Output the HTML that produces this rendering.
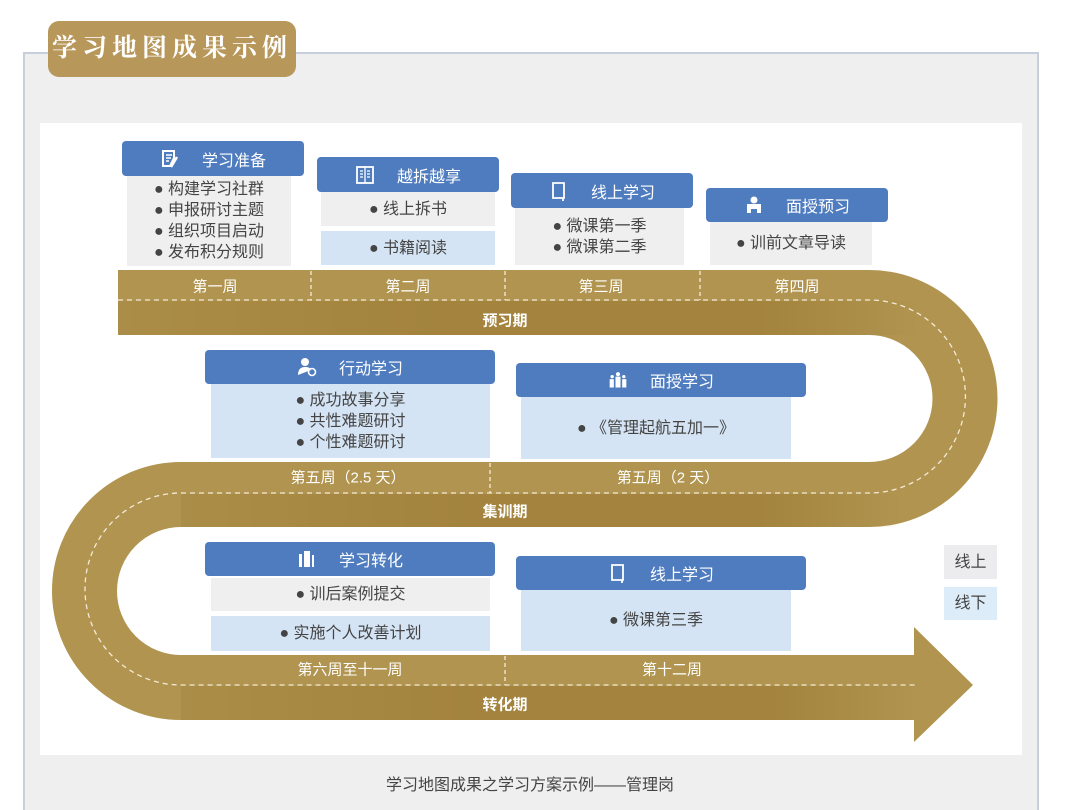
<!DOCTYPE html>
<html><head><meta charset="utf-8">
<style>
*{margin:0;padding:0;box-sizing:border-box}
html{height:810px;overflow:hidden}
body{width:1079px;height:810px;background:#fff;position:relative;overflow:hidden;font-family:"Liberation Sans","Noto Sans CJK SC",sans-serif}
.abs{position:absolute}
.panel{left:23px;top:52px;width:1016px;height:758px;background:#efefef;border:2px solid #c6cfdb;border-bottom:none}
.badge{left:48px;top:21px;width:248px;height:56px;background:#b8975a;border-radius:11px;color:#fff;font-family:"Liberation Serif","Noto Serif CJK SC",serif;font-weight:bold;font-size:25px;letter-spacing:5px;line-height:56px;text-align:center}
.white{left:40px;top:123px;width:982px;height:632px;background:#fff}
.hd{position:absolute;background:#4f7cbf;border-radius:4px;color:#fff;font-size:16px;display:flex;align-items:center;justify-content:center;gap:22px}
.bd{position:absolute;color:#444;font-size:16px;text-align:center;line-height:21px;display:flex;flex-direction:column;justify-content:center}
.g{background:#efeff0}.b{background:#d5e4f4}
.wl{position:absolute;color:#fff;font-size:15px;transform:translate(-50%,-50%);white-space:nowrap}
.pl{position:absolute;color:#fff;font-size:15px;font-weight:bold;transform:translate(-50%,-50%);white-space:nowrap}
.ic{width:20px;height:20px;display:inline-block}
</style></head><body>
<div class="abs panel"></div>
<div class="abs badge">学习地图成果示例</div>
<div class="abs white"></div>
<svg class="abs" style="left:0;top:0" width="1079" height="810">
<defs>
<linearGradient id="dk" x1="0" x2="1" y1="0" y2="0"><stop offset="0" stop-color="#9a7832" stop-opacity="0.25"/><stop offset="0.4" stop-color="#9a7832" stop-opacity="0.6"/><stop offset="0.8" stop-color="#9a7832" stop-opacity="0.6"/><stop offset="1" stop-color="#9a7832" stop-opacity="0"/></linearGradient>
</defs>
<path d="M118 302.5 H869 A96 96 0 0 1 869 494.5 H181 A96 96 0 0 0 181 687.5 H916" fill="none" stroke="#b0944f" stroke-width="65"/>
<rect x="118" y="301" width="800" height="34" fill="url(#dk)"/>
<rect x="181" y="494" width="720" height="33" fill="url(#dk)"/>
<rect x="181" y="686" width="735" height="34" fill="url(#dk)"/>
<polygon points="914,627 973,685 914,742" fill="#b0944f"/>
<path d="M118 300 H869 A96.5 96.5 0 0 1 869 493 H181 A96 96 0 0 0 181 685 H915" fill="none" stroke="#f3ead8" stroke-width="1.3" stroke-dasharray="5 4"/>
<g stroke="#f3ead8" stroke-width="1.3" stroke-dasharray="4 3">
<line x1="311" y1="271" x2="311" y2="300"/><line x1="505" y1="271" x2="505" y2="300"/><line x1="700" y1="271" x2="700" y2="300"/>
<line x1="490" y1="463" x2="490" y2="493"/><line x1="505" y1="656" x2="505" y2="685"/>
</g>
</svg>
<div class="wl" style="left:215px;top:286px">第一周</div>
<div class="wl" style="left:408px;top:286px">第二周</div>
<div class="wl" style="left:601px;top:286px">第三周</div>
<div class="wl" style="left:797px;top:286px">第四周</div>
<div class="pl" style="left:505px;top:320px">预习期</div>
<div class="wl" style="left:348px;top:477px">第五周（2.5 天）</div>
<div class="wl" style="left:668px;top:477px">第五周（2 天）</div>
<div class="pl" style="left:505px;top:511px">集训期</div>
<div class="wl" style="left:350px;top:669px">第六周至十一周</div>
<div class="wl" style="left:672px;top:669px">第十二周</div>
<div class="pl" style="left:505px;top:704px">转化期</div>

<div class="hd" style="left:122px;top:141px;width:182px;height:35px"><svg class="ic" viewBox="0 0 20 20"><path d="M3 2h11v7l-4 8H3z" fill="none" stroke="#fff" stroke-width="2"/><path d="M6 6h6M6 9h5M6 12h3" stroke="#fff" stroke-width="1.5"/><path d="M17 8l-6 10" stroke="#fff" stroke-width="2.5"/></svg><span>学习准备</span></div>
<div class="bd g" style="left:127px;top:176px;width:164px;height:90px">● 构建学习社群<br>● 申报研讨主题<br>● 组织项目启动<br>● 发布积分规则</div>
<div class="hd" style="left:317px;top:157px;width:182px;height:35px"><svg class="ic" viewBox="0 0 20 20"><rect x="2" y="2" width="16" height="16" fill="none" stroke="#fff" stroke-width="1.8"/><path d="M10 2v16M5 6h3M5 9h3M5 12h3M12 6h3M12 9h3M12 12h3" stroke="#fff" stroke-width="1.3"/></svg><span>越拆越享</span></div>
<div class="bd g" style="left:321px;top:192px;width:174px;height:34px">● 线上拆书</div>
<div class="bd b" style="left:321px;top:231px;width:174px;height:34px">● 书籍阅读</div>
<div class="hd" style="left:511px;top:173px;width:182px;height:35px"><svg class="ic" viewBox="0 0 20 20"><path d="M4 2h11v15H4z" fill="none" stroke="#fff" stroke-width="1.8"/><path d="M14 17v3" stroke="#fff" stroke-width="1.8"/></svg><span>线上学习</span></div>
<div class="bd g" style="left:515px;top:208px;width:169px;height:57px">● 微课第一季<br>● 微课第二季</div>
<div class="hd" style="left:706px;top:188px;width:182px;height:34px"><svg class="ic" viewBox="0 0 20 20"><circle cx="10" cy="5" r="3.5" fill="#fff"/><path d="M3 9h14v9h-4v-4H7v4H3z" fill="#fff"/></svg><span>面授预习</span></div>
<div class="bd g" style="left:710px;top:222px;width:162px;height:43px">● 训前文章导读</div>
<div class="hd" style="left:205px;top:350px;width:290px;height:34px"><svg class="ic" viewBox="0 0 20 20"><circle cx="8" cy="5" r="4" fill="#fff"/><path d="M1 18c0-6 3-8 7-8s5 1 6 3" fill="#fff"/><circle cx="15" cy="15" r="3.5" fill="none" stroke="#fff" stroke-width="1.6"/></svg><span>行动学习</span></div>
<div class="bd b" style="left:211px;top:384px;width:279px;height:74px">● 成功故事分享<br>● 共性难题研讨<br>● 个性难题研讨</div>
<div class="hd" style="left:516px;top:363px;width:290px;height:34px"><svg class="ic" viewBox="0 0 24 20"><g fill="#fff"><circle cx="12" cy="3" r="2.5"/><circle cx="5" cy="6" r="2"/><circle cx="19" cy="6" r="2"/><rect x="9" y="6" width="6" height="13"/><rect x="2" y="9" width="5" height="10"/><rect x="17" y="9" width="5" height="10"/></g></svg><span>面授学习</span></div>
<div class="bd b" style="left:521px;top:397px;width:270px;height:62px">● 《管理起航五加一》</div>
<div class="hd" style="left:205px;top:542px;width:290px;height:34px"><svg class="ic" viewBox="0 0 20 20"><g fill="#fff"><rect x="2" y="5" width="3" height="13"/><rect x="7" y="2" width="6" height="16"/><rect x="15" y="6" width="2" height="12"/></g></svg><span>学习转化</span></div>
<div class="bd g" style="left:211px;top:578px;width:279px;height:33px">● 训后案例提交</div>
<div class="bd b" style="left:211px;top:616px;width:279px;height:35px">● 实施个人改善计划</div>
<div class="hd" style="left:516px;top:556px;width:290px;height:34px"><svg class="ic" viewBox="0 0 20 20"><path d="M4 2h11v15H4z" fill="none" stroke="#fff" stroke-width="1.8"/><path d="M14 17v3" stroke="#fff" stroke-width="1.8"/></svg><span>线上学习</span></div>
<div class="bd b" style="left:521px;top:590px;width:270px;height:61px">● 微课第三季</div>
<div class="bd" style="left:944px;top:545px;width:53px;height:34px;background:#ececee;color:#444">线上</div>
<div class="bd" style="left:944px;top:587px;width:53px;height:33px;background:#dcecf8;color:#444">线下</div>
<div class="abs" style="left:0;width:1060px;top:771px;text-align:center;color:#444;font-size:16px">学习地图成果之学习方案示例——管理岗</div>
</body></html>
